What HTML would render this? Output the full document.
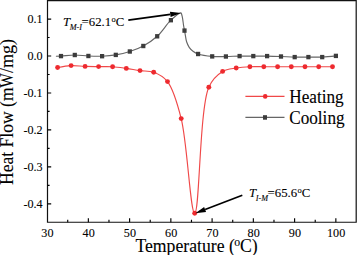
<!DOCTYPE html>
<html><head><meta charset="utf-8"><style>
html,body{margin:0;padding:0;background:#fff;}
body{width:357px;height:255px;overflow:hidden;font-family:"Liberation Serif",serif;}
svg{display:block;}
</style></head><body>
<svg width="357" height="255" viewBox="0 0 357 255">
<rect width="357" height="255" fill="#fff"/>
<path d="M47.5,0.6 H356.2 V222.25 H47.5 Z" fill="none" stroke="#111" stroke-width="1.2"/>
<path d="M67.72,222.25 V219.85 M88.35,222.25 V218.25 M108.97,222.25 V219.85 M129.60,222.25 V218.25 M150.22,222.25 V219.85 M170.85,222.25 V218.25 M191.47,222.25 V219.85 M212.10,222.25 V218.25 M232.72,222.25 V219.85 M253.35,222.25 V218.25 M273.98,222.25 V219.85 M294.60,222.25 V218.25 M315.23,222.25 V219.85 M335.85,222.25 V218.25 M47.5,203.80 H51.20 M47.5,185.33 H49.60 M47.5,166.85 H51.20 M47.5,148.38 H49.60 M47.5,129.90 H51.20 M47.5,111.43 H49.60 M47.5,92.95 H51.20 M47.5,74.47 H49.60 M47.5,56.00 H51.20 M47.5,37.52 H49.60 M47.5,19.05 H51.20" stroke="#000" stroke-width="1.15" fill="none"/>
<text transform="translate(47.40,236.9) scale(0.9,1)" font-size="13.5" text-anchor="middle" font-family="'Liberation Serif', serif" stroke="#000" stroke-width="0.1">30</text>
<text transform="translate(88.65,236.9) scale(0.9,1)" font-size="13.5" text-anchor="middle" font-family="'Liberation Serif', serif" stroke="#000" stroke-width="0.1">40</text>
<text transform="translate(129.90,236.9) scale(0.9,1)" font-size="13.5" text-anchor="middle" font-family="'Liberation Serif', serif" stroke="#000" stroke-width="0.1">50</text>
<text transform="translate(171.15,236.9) scale(0.9,1)" font-size="13.5" text-anchor="middle" font-family="'Liberation Serif', serif" stroke="#000" stroke-width="0.1">60</text>
<text transform="translate(212.40,236.9) scale(0.9,1)" font-size="13.5" text-anchor="middle" font-family="'Liberation Serif', serif" stroke="#000" stroke-width="0.1">70</text>
<text transform="translate(253.65,236.9) scale(0.9,1)" font-size="13.5" text-anchor="middle" font-family="'Liberation Serif', serif" stroke="#000" stroke-width="0.1">80</text>
<text transform="translate(294.90,236.9) scale(0.9,1)" font-size="13.5" text-anchor="middle" font-family="'Liberation Serif', serif" stroke="#000" stroke-width="0.1">90</text>
<text transform="translate(336.15,236.9) scale(0.9,1)" font-size="13.5" text-anchor="middle" font-family="'Liberation Serif', serif" stroke="#000" stroke-width="0.1">100</text>
<text transform="translate(42.6,23.45) scale(0.9,1)" font-size="13.5" text-anchor="end" font-family="'Liberation Serif', serif" stroke="#000" stroke-width="0.1">0.1</text>
<text transform="translate(42.6,60.40) scale(0.9,1)" font-size="13.5" text-anchor="end" font-family="'Liberation Serif', serif" stroke="#000" stroke-width="0.1">0.0</text>
<text transform="translate(42.6,97.35) scale(0.9,1)" font-size="13.5" text-anchor="end" font-family="'Liberation Serif', serif" stroke="#000" stroke-width="0.1">-0.1</text>
<text transform="translate(42.6,134.30) scale(0.9,1)" font-size="13.5" text-anchor="end" font-family="'Liberation Serif', serif" stroke="#000" stroke-width="0.1">-0.2</text>
<text transform="translate(42.6,171.25) scale(0.9,1)" font-size="13.5" text-anchor="end" font-family="'Liberation Serif', serif" stroke="#000" stroke-width="0.1">-0.3</text>
<text transform="translate(42.6,208.20) scale(0.9,1)" font-size="13.5" text-anchor="end" font-family="'Liberation Serif', serif" stroke="#000" stroke-width="0.1">-0.4</text>
<text transform="translate(135.4,251.6) scale(1,1.06)" font-size="17.7" font-family="'Liberation Serif', serif" stroke="#000" stroke-width="0.1">Temperature (<tspan font-size="11.8" dy="-5.3" dx="-0.6">o</tspan><tspan dy="5.3" dx="-0.2">C)</tspan></text>
<text transform="translate(12.6,185.0) rotate(-90) scale(1.005,1.07)" font-size="17.5" font-family="'Liberation Serif', serif" stroke="#000" stroke-width="0.1">Heat Flow (m</text>
<text transform="translate(12.6,87.8) rotate(-90) scale(0.88,1.07)" font-size="17.5" font-family="'Liberation Serif', serif" stroke="#000" stroke-width="0.1">W</text>
<text transform="translate(12.6,72.9) rotate(-90) scale(1.03,1.07)" font-size="17.5" font-family="'Liberation Serif', serif" stroke="#000" stroke-width="0.1">/mg)</text>
<path d="M55.90,56.20 C55.90,56.20 58.89,56.20 61.00,56.10 C64.48,55.93 70.22,55.01 74.80,55.00 C79.35,54.99 83.86,55.80 88.40,56.00 C92.96,56.20 97.54,56.38 102.10,56.20 C106.67,56.02 111.24,55.67 115.80,54.90 C120.47,54.12 125.23,52.98 129.80,51.50 C134.40,50.01 138.90,48.39 143.30,46.00 C148.05,43.42 152.82,40.28 157.20,36.30 C162.09,31.86 166.47,24.33 170.90,20.20 C174.28,17.05 179.21,12.50 180.80,12.90 C181.52,13.08 181.60,14.28 181.90,15.20 C182.31,16.45 182.53,18.17 182.80,19.80 C183.10,21.62 183.30,23.76 183.60,25.60 C183.87,27.28 184.21,28.77 184.50,30.40 C184.81,32.10 185.07,33.79 185.40,35.60 C185.76,37.58 185.96,39.83 186.60,41.80 C187.23,43.73 188.09,45.70 189.20,47.30 C190.25,48.81 191.55,50.10 193.00,51.20 C194.50,52.34 195.89,53.23 198.10,54.00 C201.56,55.21 207.52,55.99 212.20,56.40 C216.78,56.80 221.33,56.55 225.90,56.50 C230.47,56.45 235.03,56.17 239.60,56.10 C244.17,56.03 248.73,56.10 253.30,56.10 C257.89,56.10 262.49,56.03 267.10,56.10 C271.73,56.17 276.38,56.33 281.00,56.50 C285.58,56.67 290.13,57.00 294.70,57.10 C299.27,57.20 303.83,57.10 308.40,57.10 C312.99,57.10 317.61,57.30 322.20,57.10 C326.78,56.90 335.90,55.90 335.90,55.90" fill="none" stroke="#666" stroke-width="1.15"/>
<path d="M57.60,67.50 C57.60,67.50 66.55,65.79 71.10,65.60 C75.71,65.41 80.47,66.23 85.10,66.40 C89.64,66.56 94.06,66.55 98.60,66.60 C103.22,66.65 107.97,66.40 112.60,66.70 C117.20,67.00 121.74,67.75 126.30,68.40 C130.87,69.05 135.43,69.95 140.00,70.60 C144.56,71.25 149.31,70.66 153.70,72.30 C158.52,74.10 163.54,76.57 167.50,81.60 C173.59,89.35 177.29,103.16 181.20,118.60 C187.29,142.64 190.39,213.37 194.70,213.30 C199.66,213.23 199.40,108.56 208.80,87.20 C212.62,78.52 217.48,74.53 222.60,71.40 C226.79,68.84 231.63,68.78 236.20,68.00 C240.73,67.22 245.31,66.92 249.90,66.70 C254.51,66.48 259.18,66.70 263.80,66.70 C268.41,66.70 273.01,66.70 277.60,66.70 C282.17,66.70 286.73,66.70 291.30,66.70 C295.87,66.70 300.43,66.70 305.00,66.70 C309.57,66.70 314.13,66.70 318.70,66.70 C323.29,66.70 332.50,66.70 332.50,66.70" fill="none" stroke="#f04848" stroke-width="1.15"/>
<rect x="58.90" y="53.90" width="4.2" height="4.4" fill="#3c3c3c"/>
<rect x="72.70" y="52.80" width="4.2" height="4.4" fill="#3c3c3c"/>
<rect x="86.30" y="53.80" width="4.2" height="4.4" fill="#3c3c3c"/>
<rect x="100.00" y="54.00" width="4.2" height="4.4" fill="#3c3c3c"/>
<rect x="113.70" y="52.70" width="4.2" height="4.4" fill="#3c3c3c"/>
<rect x="127.70" y="49.30" width="4.2" height="4.4" fill="#3c3c3c"/>
<rect x="141.20" y="43.80" width="4.2" height="4.4" fill="#3c3c3c"/>
<rect x="155.10" y="34.10" width="4.2" height="4.4" fill="#3c3c3c"/>
<rect x="168.80" y="18.00" width="4.2" height="4.4" fill="#3c3c3c"/>
<rect x="182.40" y="28.40" width="4.2" height="4.4" fill="#3c3c3c"/>
<rect x="196.00" y="51.80" width="4.2" height="4.4" fill="#3c3c3c"/>
<rect x="210.10" y="54.20" width="4.2" height="4.4" fill="#3c3c3c"/>
<rect x="223.80" y="54.30" width="4.2" height="4.4" fill="#3c3c3c"/>
<rect x="237.50" y="53.90" width="4.2" height="4.4" fill="#3c3c3c"/>
<rect x="251.20" y="53.90" width="4.2" height="4.4" fill="#3c3c3c"/>
<rect x="265.00" y="53.90" width="4.2" height="4.4" fill="#3c3c3c"/>
<rect x="278.90" y="54.30" width="4.2" height="4.4" fill="#3c3c3c"/>
<rect x="292.60" y="54.90" width="4.2" height="4.4" fill="#3c3c3c"/>
<rect x="306.30" y="54.90" width="4.2" height="4.4" fill="#3c3c3c"/>
<rect x="320.10" y="54.90" width="4.2" height="4.4" fill="#3c3c3c"/>
<rect x="333.80" y="53.70" width="4.2" height="4.4" fill="#3c3c3c"/>
<circle cx="57.60" cy="67.50" r="2.45" fill="#ee2a2f"/>
<circle cx="71.10" cy="65.60" r="2.45" fill="#ee2a2f"/>
<circle cx="85.10" cy="66.40" r="2.45" fill="#ee2a2f"/>
<circle cx="98.60" cy="66.60" r="2.45" fill="#ee2a2f"/>
<circle cx="112.60" cy="66.70" r="2.45" fill="#ee2a2f"/>
<circle cx="126.30" cy="68.40" r="2.45" fill="#ee2a2f"/>
<circle cx="140.00" cy="70.60" r="2.45" fill="#ee2a2f"/>
<circle cx="153.70" cy="72.30" r="2.45" fill="#ee2a2f"/>
<circle cx="167.50" cy="81.60" r="2.45" fill="#ee2a2f"/>
<circle cx="181.20" cy="118.60" r="2.45" fill="#ee2a2f"/>
<circle cx="194.70" cy="213.30" r="2.45" fill="#ee2a2f"/>
<circle cx="208.80" cy="87.20" r="2.45" fill="#ee2a2f"/>
<circle cx="222.60" cy="71.40" r="2.45" fill="#ee2a2f"/>
<circle cx="236.20" cy="68.00" r="2.45" fill="#ee2a2f"/>
<circle cx="249.90" cy="66.70" r="2.45" fill="#ee2a2f"/>
<circle cx="263.80" cy="66.70" r="2.45" fill="#ee2a2f"/>
<circle cx="277.60" cy="66.70" r="2.45" fill="#ee2a2f"/>
<circle cx="291.30" cy="66.70" r="2.45" fill="#ee2a2f"/>
<circle cx="305.00" cy="66.70" r="2.45" fill="#ee2a2f"/>
<circle cx="318.70" cy="66.70" r="2.45" fill="#ee2a2f"/>
<circle cx="332.50" cy="66.70" r="2.45" fill="#ee2a2f"/>
<path d="M245.4,96.4 H284.5" stroke="#f04848" stroke-width="1.15"/>
<circle cx="265.2" cy="96.4" r="2.3" fill="#ee2a2f"/>
<path d="M245.4,117.3 H284.5" stroke="#666" stroke-width="1.15"/>
<rect x="263.0" y="115.2" width="4.0" height="4.5" fill="#3c3c3c"/>
<text transform="translate(289.3,102.7) scale(1,1.07)" font-size="17.2" font-family="'Liberation Serif', serif" stroke="#000" stroke-width="0.1">Heating</text>
<text transform="translate(289.2,123.9) scale(1,1.07)" font-size="17.2" font-family="'Liberation Serif', serif" stroke="#000" stroke-width="0.1">Cooling</text>
<text x="62.9" y="25.6" font-size="12.8" font-family="'Liberation Serif', serif" stroke="#000" stroke-width="0.1"><tspan font-style="italic">T</tspan><tspan font-style="italic" font-size="8.2" dy="4.2" dx="-0.3">M-I</tspan><tspan dy="-4.2" dx="-0.4">=62.1</tspan><tspan font-size="8.5" dy="-4.0" dx="0.3">o</tspan><tspan dy="4.0">C</tspan></text>
<text x="248.9" y="196.5" font-size="12.8" font-family="'Liberation Serif', serif" stroke="#000" stroke-width="0.1"><tspan font-style="italic">T</tspan><tspan font-style="italic" font-size="8.2" dy="4.2" dx="-0.3">I-M</tspan><tspan dy="-4.2" dx="-0.4">=65.6</tspan><tspan font-size="8.5" dy="-4.0" dx="0.3">o</tspan><tspan dy="4.0">C</tspan></text>
<path d="M128.3,20.2 L170.30,14.38" stroke="#000" stroke-width="1.7"/><path d="M181.0,12.9 L170.67,17.01 L169.94,11.76 Z" fill="#000"/>
<path d="M242.3,195.3 L205.11,209.54" stroke="#000" stroke-width="1.7"/><path d="M195.3,213.3 L204.14,207.02 L206.07,212.07 Z" fill="#000"/>
</svg>
</body></html>
